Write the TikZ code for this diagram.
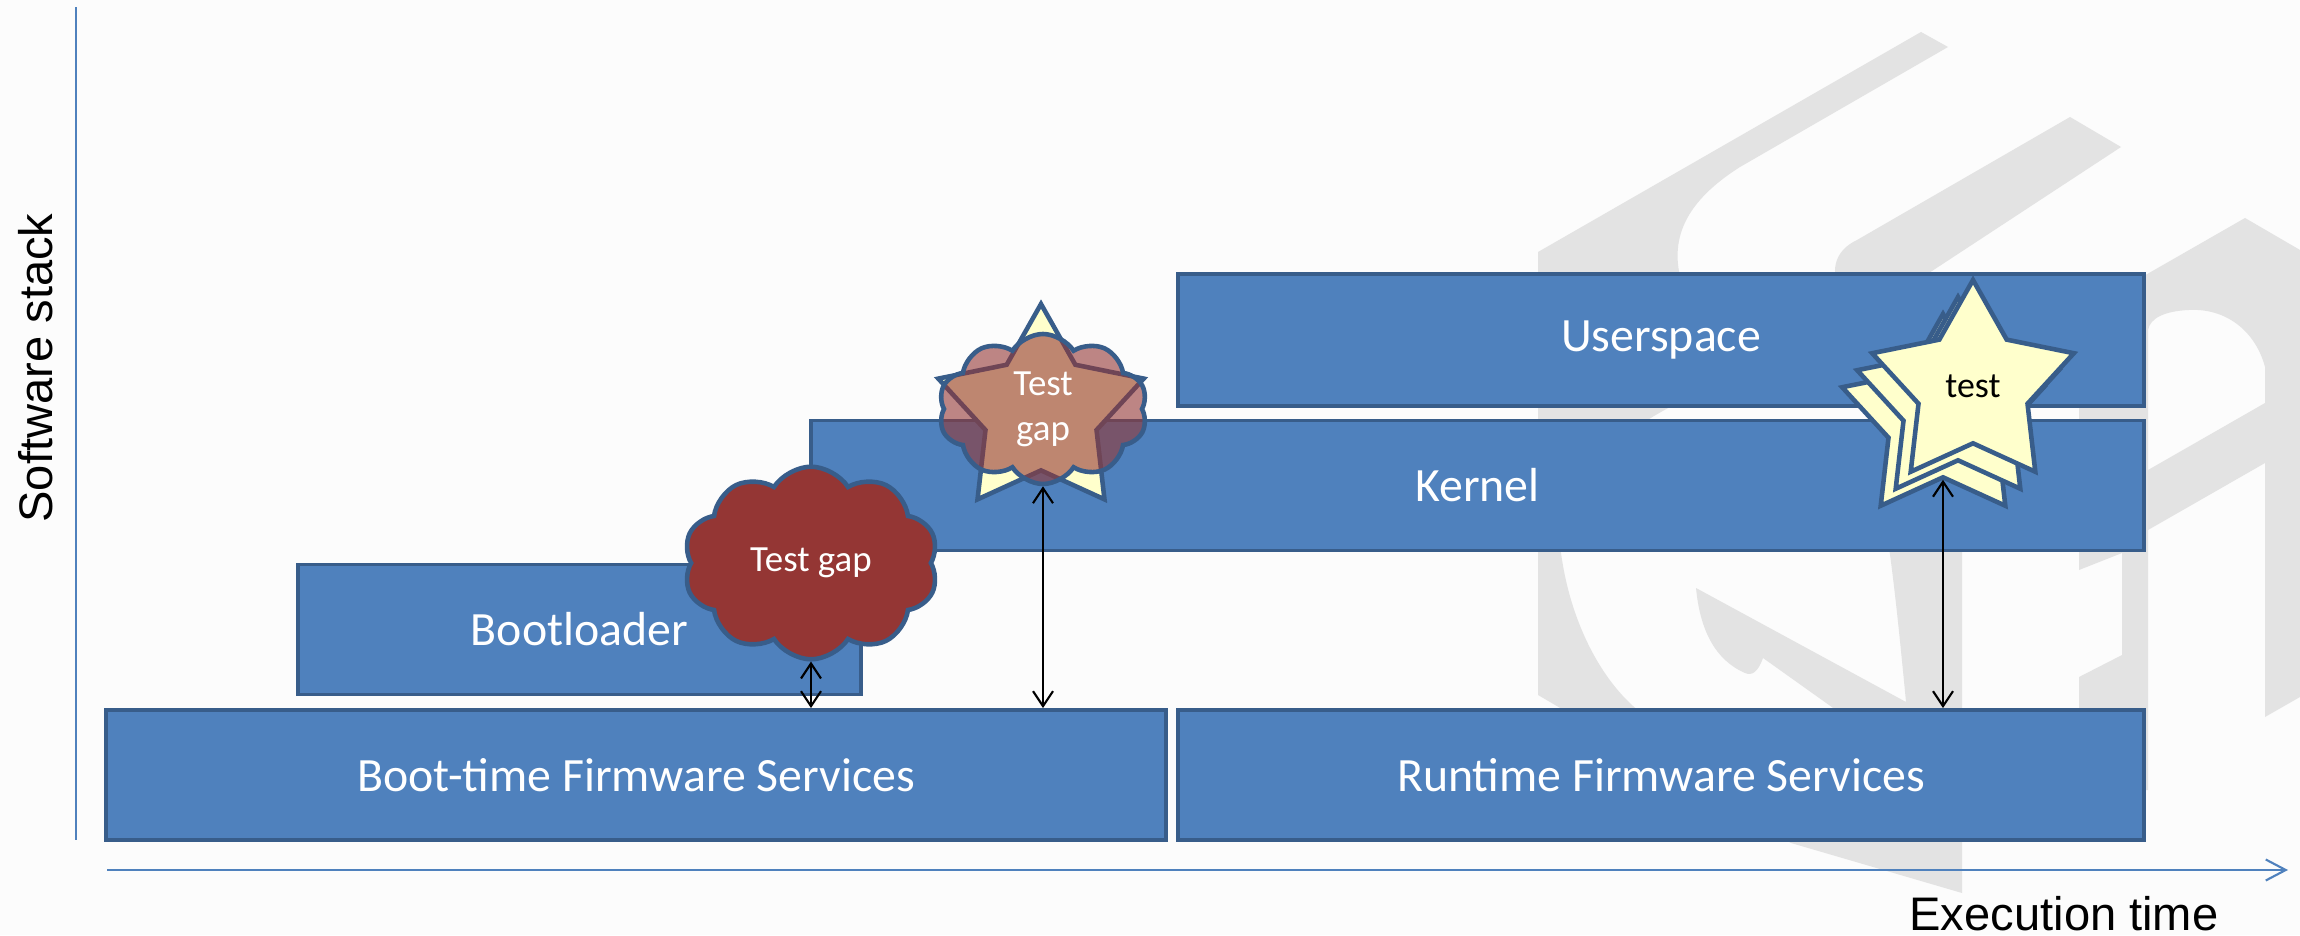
\documentclass[tikz,border=0pt]{standalone}
\usepackage{fontspec}
\setmainfont{Carlito}
\newfontfamily\axisfont{Liberation Sans}
\usetikzlibrary{arrows.meta, positioning, shapes.geometric, shapes.symbols}

\definecolor{boxFill}{RGB}{79,129,189}
\definecolor{boxLine}{RGB}{56,93,138}
\definecolor{gapFill}{RGB}{148,54,52}
\definecolor{starFill}{RGB}{255,255,204}
\definecolor{markGray}{RGB}{227,227,227}
\definecolor{paper}{RGB}{252,252,252}

\tikzset{
	layerbox/.style={draw=boxLine, fill=boxFill, line width=1.1pt, minimum height=1.3cm, text=white, font=\fontsize{13.6}{16}\selectfont, inner sep=0pt},
	gapcloud/.style={cloud, cloud puffs=10, cloud puff arc=115, draw=boxLine, line width=1.3pt, text=white, align=center, font=\fontsize{10.5}{12.8}\selectfont, inner sep=0pt},
	teststar/.style={star, star points=5, star point ratio=1.85, draw=boxLine, fill=starFill, line width=1.3pt, minimum size=2.12cm, inner sep=0pt, font=\fontsize{10.2}{12}\selectfont},
	linkarr/.style={{Straight Barb[length=1.5mm,width=2mm]}-{Straight Barb[length=1.5mm,width=2mm]}, line width=0.6pt},
	axisline/.style={draw=boxFill, line width=0.6pt},
	axislabel/.style={font=\axisfont\fontsize{13.4}{16}\selectfont},
}

\begin{document}
\begin{tikzpicture}
	\fill[paper] (0,0) rectangle (23,9.35);
	\useasboundingbox (0,0) rectangle (23,9.35);

	% faint logo in the background (pixel grid, y downwards)
	\begin{scope}[x=0.1mm, y=-0.1mm, shift={(0cm,9.35cm)}]
		\clip (0,0) rectangle (2300,935);
		\fill[markGray] (1921,32) -- (1948,47) -- (1740,167) .. controls (1680,205) and (1668,245) .. (1684,290)
			-- (1684,400) .. controls (1600,440) and (1552,500) .. (1561,553)
			.. controls (1570,620) and (1600,680) .. (1640,712) -- (1962,712) -- (1962,893) -- (1791,843)
			-- (1538,695) -- (1538,252) -- cycle;
		\fill[markGray] (1888,540) -- (1962,540) -- (1962,720) -- (1850,720) -- (1763,658)
			.. controls (1758,672) and (1752,676) .. (1745,673) .. controls (1715,660) and (1700,630) .. (1696,588)
			-- (1906,702) .. controls (1900,640) and (1895,590) .. (1888,540) -- cycle;
		\fill[markGray] (2070,117) -- (2121,147) -- (1903,290) -- (1839,290)
			.. controls (1830,268) and (1836,250) .. (1857,240) -- cycle;
		\fill[markGray] (2245,218) -- (2300,250) -- (2300,697) -- (2265,717) -- (2265,367)
			.. controls (2255,330) and (2225,308) .. (2189,310) .. controls (2165,311) and (2150,318) .. (2148,330)
			-- (2148,790) -- (2079,790) -- (2079,677) -- (2122,655) -- (2122,553) -- (2079,570)
			-- (2079,290) -- (2142,277) -- cycle;
		\fill[markGray] (2148,470) -- (2265,403) -- (2265,463) -- (2148,530) -- cycle;
	\end{scope}

	% axes
	\coordinate (vTop) at (0.76,9.28);
	\coordinate (vBot) at (0.76,0.95);
	\coordinate (hStart) at (1.07,0.65);
	\coordinate (hEnd) at (22.88,0.65);
	\draw[axisline] (vBot) -- (vTop);
	\draw[axisline, -{Straight Barb[length=2mm,width=2.1mm]}] (hStart) -- (hEnd);
	\node[axislabel, rotate=90, anchor=base] (ylab) at (0.53,5.67) {Software stack};
	\node[axislabel, anchor=base] (xlab) at (20.64,0.05) {Execution time};

	% software layers
	\node[layerbox, minimum width=10.6cm] (boot) at (6.36,1.60) {Boot-time Firmware Services};
	\node[layerbox, minimum width=9.66cm] (runtime) at (16.61,1.60) {Runtime Firmware Services};
	\node[layerbox, minimum width=5.63cm] (loader) at (5.795,3.055) {Bootloader};
	\node[layerbox, minimum width=13.33cm] (kernel) at (14.775,4.495) {Kernel};
	\node[layerbox, minimum width=9.66cm, minimum height=1.32cm] (user) at (16.61,5.95) {Userspace};

	% gaps and tests
	\node[gapcloud, fill=gapFill, minimum width=2.55cm, minimum height=1.88cm] (gapA) at (8.11,3.72) {Test gap};
	\node[teststar, minimum size=2.16cm] (gapStar) at (10.41,5.23) {};
	\node[gapcloud, fill=gapFill, fill opacity=0.6, text opacity=1, draw opacity=1, minimum width=2.09cm, minimum height=1.5cm] (gapB) at (10.43,5.26) {Test\\gap};
	\node[teststar] (testC) at (19.43,5.15) {};
	\node[teststar] (testB) at (19.58,5.32) {};
	\node[teststar] (testA) at (19.73,5.49) {test};

	\draw[linkarr] (gapA.south) -- (gapA.south |- boot.north);
	\draw[linkarr] (gapB.south) -- (gapB.south |- boot.north);
	\draw[linkarr] (testC.south) -- (testC.south |- runtime.north);
\end{tikzpicture}
\end{document}
